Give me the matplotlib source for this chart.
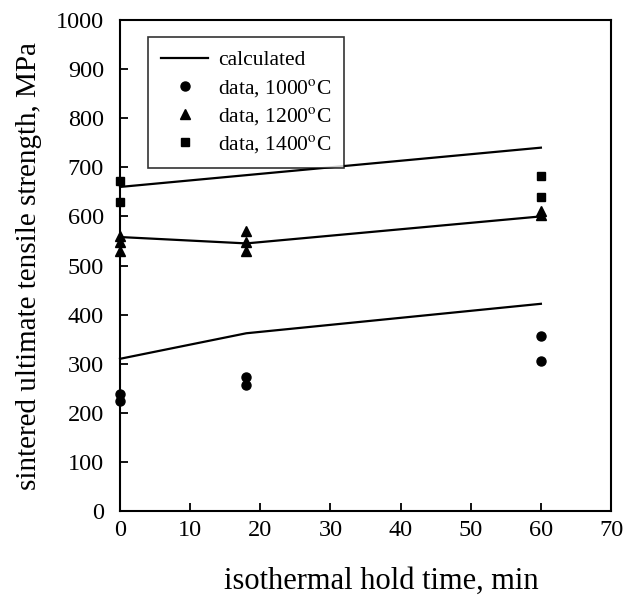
import matplotlib
matplotlib.use("Agg")
import matplotlib.pyplot as plt
from matplotlib.lines import Line2D

plt.rcParams['font.family'] = ['Liberation Serif', 'DejaVu Serif']
plt.rcParams['mathtext.fontset'] = 'stix'

calc_x = [0, 18, 60]
calc_1000 = [310, 362, 422]
calc_1200 = [558, 545, 600]
calc_1400 = [660, 684, 740]

d1000_x = [0, 0, 18, 18, 60, 60]
d1000_y = [224, 238, 272, 257, 356, 305]
d1200_x = [0, 0, 0, 18, 18, 18, 60, 60]
d1200_y = [560, 548, 530, 570, 548, 530, 612, 602]
d1400_x = [0, 0, 60, 60]
d1400_y = [672, 630, 682, 640]

fig = plt.figure(figsize=(6.33, 5.99), dpi=100)
ax = fig.add_axes([0.1896, 0.1469, 0.7757, 0.8197])

for ys in (calc_1000, calc_1200, calc_1400):
    ax.plot(calc_x, ys, color='black', lw=1.6, clip_on=False)
ax.plot(d1000_x, d1000_y, 'o', color='black', ms=6.5, ls='none', clip_on=False)
ax.plot(d1200_x, d1200_y, '^', color='black', ms=6.5, ls='none', clip_on=False)
ax.plot(d1400_x, d1400_y, 's', color='black', ms=6, ls='none', clip_on=False)

ax.set_xlim(0, 70)
ax.set_ylim(0, 1000)
ax.set_xticks(range(0, 71, 10))
ax.set_yticks(range(0, 1001, 100))
ax.tick_params(direction='in', length=6, labelsize=17.5, width=1.3)
ax.tick_params(axis='x', pad=6.5)
ax.tick_params(axis='y', pad=11.5)
for s in ax.spines.values():
    s.set_linewidth(1.5)
ax.set_xlabel('isothermal hold time, min', fontsize=22)
ax.xaxis.set_label_coords(0.532, -0.158)
ax.xaxis.label.set_verticalalignment('baseline')
ax.set_ylabel('sintered ultimate tensile strength, MPa', fontsize=21, labelpad=10)

handles = [
    Line2D([], [], color='black', lw=1.6),
    Line2D([], [], marker='o', color='black', ls='none', ms=6.5),
    Line2D([], [], marker='^', color='black', ls='none', ms=6.5),
    Line2D([], [], marker='s', color='black', ls='none', ms=6),
]
labels = ['calculated', 'data, 1000$^{\\mathrm{o}}$C', 'data, 1200$^{\\mathrm{o}}$C', 'data, 1400$^{\\mathrm{o}}$C']
leg = ax.legend(handles, labels, loc='upper left', bbox_to_anchor=(0.057, 0.965),
                fontsize=15.5, frameon=True, fancybox=False, edgecolor='black',
                handlelength=2.2, handletextpad=0.45, labelspacing=0.3,
                borderpad=0.6, borderaxespad=0)
leg.get_frame().set_linewidth(1.2)

fig.savefig('out.png', dpi=100)
